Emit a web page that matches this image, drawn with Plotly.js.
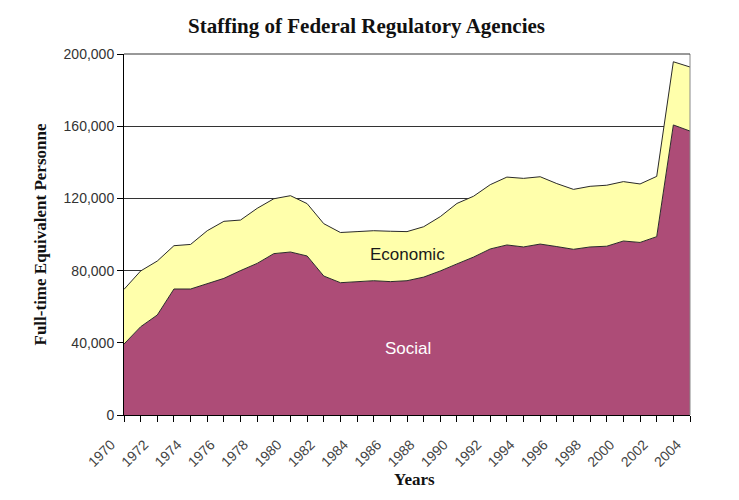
<!DOCTYPE html>
<html>
<head>
<meta charset="utf-8">
<script src="https://cdn.plot.ly/plotly-3.0.1.min.js"></script>
<style>
html,body{margin:0;padding:0;background:#fff;}
#chart{width:739px;height:500px;}
</style>
</head>
<body>
<div id="chart"></div>
<script>
const years = [1970,1971,1972,1973,1974,1975,1976,1977,1978,1979,1980,1981,1982,1983,1984,1985,1986,1987,1988,1989,1990,1991,1992,1993,1994,1995,1996,1997,1998,1999,2000,2001,2002,2003,2004];
const social = [39300,48900,55400,69800,69800,72600,75700,80000,84000,89400,90300,88100,77000,73300,73900,74400,73900,74400,76400,79800,83700,87500,92000,94200,93100,94700,93300,91800,93100,93500,96400,95600,98800,160700,157300];
const economic = [30300,30900,29900,24000,24700,29500,31600,28000,30500,30400,31200,29000,29000,27800,27700,27700,27900,27200,27900,30100,33500,33700,35600,37600,38000,37300,34900,33200,33600,33800,32900,32400,33400,35000,35500];
const tickYears = [1970,1972,1974,1976,1978,1980,1982,1984,1986,1988,1990,1992,1994,1996,1998,2000,2002,2004];
const tickLabels = tickYears.map(String);
const yTicks = [0,40000,80000,120000,160000,200000];
const yTickLabels = ['0','40,000','80,000','120,000','160,000','200,000'];

const traces = [
  {x: years, y: social, name: 'Social', type: 'scatter', mode: 'lines', stackgroup: 'one',
   line: {color: '#2a2a2a', width: 1}, fillcolor: '#AD4C77'},
  {x: years, y: economic, name: 'Economic', type: 'scatter', mode: 'lines', stackgroup: 'one',
   line: {color: '#2a2a2a', width: 1}, fillcolor: '#FFFFAB'}
];

const serif = 'Liberation Serif, Times New Roman, serif';
const sans = 'Liberation Sans, Arial, sans-serif';

const layout = {
  width: 739, height: 500,
  margin: {l: 124, r: 49, t: 54, b: 85},
  paper_bgcolor: '#ffffff', plot_bgcolor: '#ffffff',
  showlegend: false,
  title: {text: '<b>Staffing of Federal Regulatory Agencies</b>', x: 0.496, xanchor: 'center', y: 0.948, yanchor: 'middle',
          font: {family: serif, size: 21, color: '#111'}},
  xaxis: {
    type: 'linear', range: [1970, 2004],
    tickmode: 'array', tickvals: tickYears, ticktext: tickLabels, tickangle: -45,
    ticks: 'outside', ticklen: 6, tickcolor: '#000',
    ticklabelstandoff: 9, ticklabelshift: -13,
    minor: {tickmode: 'linear', tick0: 1970, dtick: 1, ticks: 'outside', ticklen: 6, tickcolor: '#000', showgrid: false},
    showline: true, linecolor: '#000', linewidth: 1, showgrid: false, zeroline: false,
    tickfont: {family: sans, size: 14, color: '#444'}
  },
  yaxis: {
    range: [0, 200000], tickmode: 'array', tickvals: yTicks, ticktext: yTickLabels,
    ticks: 'outside', ticklen: 6, tickcolor: '#000',
    showline: true, linecolor: '#000', linewidth: 1,
    showgrid: true, gridcolor: '#333', gridwidth: 1, zeroline: false,
    tickfont: {family: sans, size: 14, color: '#333'},
    title: {text: '<b>Full-time Equivalent Personne</b>', font: {family: serif, size: 17, color: '#111'}, standoff: 12}
  },
  shapes: [
    {type: 'line', xref: 'paper', yref: 'paper', x0: 1, x1: 1, y0: 0, y1: 1, line: {color: '#888', width: 1}},
    {type: 'line', xref: 'paper', yref: 'paper', x0: 0, x1: 1, y0: 1, y1: 1, line: {color: '#333', width: 1}}
  ],
  annotations: [
    {x: 1987.05, y: 88800, xref: 'x', yref: 'y', text: 'Economic', showarrow: false,
     font: {family: sans, size: 17, color: '#1a1a1a'}},
    {x: 1987.05, y: 37100, xref: 'x', yref: 'y', text: 'Social', showarrow: false,
     font: {family: sans, size: 17, color: '#ffffff'}},
    {x: 0.514, y: -0.18, xref: 'paper', yref: 'paper', text: '<b>Years</b>', showarrow: false,
     xanchor: 'center', yanchor: 'middle', font: {family: serif, size: 17, color: '#111'}}
  ]
};

Plotly.newPlot('chart', traces, layout, {displayModeBar: false, staticPlot: true});
</script>
</body>
</html>
